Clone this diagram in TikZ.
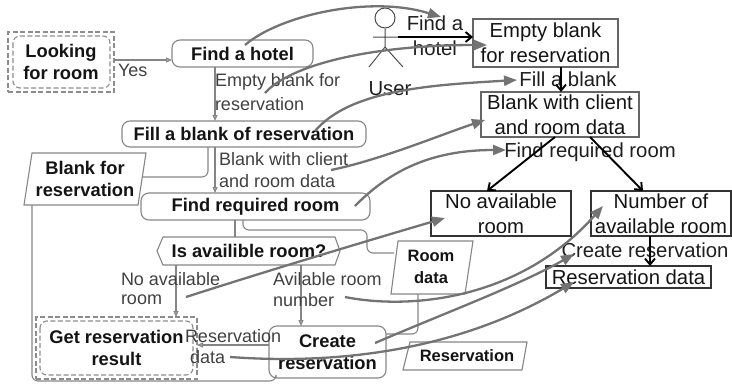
\documentclass[tikz,border=0pt]{standalone}
\usepackage{fontspec}
\setmainfont{Liberation Sans}
\usetikzlibrary{arrows.meta,calc}
\newcommand{\fB}{\fontsize{18.3}{22}\selectfont\bfseries}
\newcommand{\fL}{\fontsize{18}{21.5}\selectfont}
\newcommand{\fR}{\fontsize{20.3}{25}\selectfont}
\tikzset{
  x=1pt,y=-1pt,
  thin line/.style={draw=black!48,line width=1.1pt},
  flow/.style={thin line,-{Triangle[length=6pt,width=5pt,fill=black!25]}},
  box/.style={inner sep=0pt,outer sep=0pt,align=center,text=black!92},
  act/.style={box,thin line,rounded corners=8pt,font=\fB},
  tag/.style={box,font=\fB},
  lab/.style={inner sep=0pt,outer sep=0pt,align=left,anchor=west,text=black!75,font=\fL},
  res/.style={box,draw=black!60,line width=1.1pt,font=\fR},
  rtext/.style={inner sep=0pt,outer sep=0pt,align=center,text=black!88,font=\fR},
  dash1/.style={draw=black!45,line width=1.1pt,dash pattern=on 5pt off 2.5pt},
  graya/.style={draw=black!55,line width=2.3pt,-{Triangle[length=13pt,width=10pt]}},
  blacka/.style={draw=black,line width=1.9pt,-{Straight Barb[length=6pt,width=10pt]}},
}
\begin{document}
\begin{tikzpicture}
\useasboundingbox (0,0) rectangle (732,391);
% helper positions
\coordinate (c215) at (215,0);
\coordinate (c208) at (208,0);
\coordinate (c235) at (235,0);
\coordinate (c243) at (243,0);
\coordinate (c418) at (418,0);
\coordinate (y60) at (0,60);
\coordinate (y345) at (0,345);
\coordinate (y334) at (0,334);
% activity nodes
\node[act,minimum width=141pt,minimum height=27pt] (find) at (242.5,53.5) {Find a hotel};
\node[act,minimum width=244pt,minimum height=26pt] (fill) at (244,134) {Fill a blank of reservation};
\node[act,minimum width=229pt,minimum height=27pt] (req) at (255.5,206.5) {Find required room};
\node[act,minimum width=117pt,minimum height=52pt] (create) at (327.5,352) {Create\\reservation};
% start and end
\node[tag,dash1,minimum width=106pt,minimum height=60pt] (look) at (61,62) {};
\draw[dash1,rounded corners=7pt] (13,36) rectangle (110,88);
\node[tag,anchor=center] (looktext) at (61,62) {Looking\\for room};
\node[tag,dash1,minimum width=161pt,minimum height=62pt] (get) at (116.5,348) {};
\draw[dash1,rounded corners=7pt] (40,321) rectangle (193,375);
\node[tag] (gettext) at (116.5,348) {Get reservation\\result};
% hexagon
\node[tag] (hex) at (249,251) {Is availible room?};
\draw[thin line] (163,237) -- (335,237) -- (340,251) -- (335,265) -- (163,265) -- (157,251) -- cycle;
% data parallelograms
\node[tag] (bfr) at (85,179) {Blank for\\reservation};
\draw[thin line] (32,153) -- (146,153) -- (138,205) -- (24,205) -- cycle;
\node[tag,font=\fontsize{16.5}{22}\selectfont\bfseries] (rd) at (431,267) {Room\\data};
\draw[thin line] (398,241) -- (473,241) -- (465,294) -- (391,294) -- cycle;
\node[tag,font=\fontsize{16.5}{20}\selectfont\bfseries] (resv) at (467,356) {Reservation};
\draw[thin line] (410,342) -- (527,342) -- (522,370) -- (403,370) -- cycle;
% thin connectors
\coordinate (bfrr) at (142,177);
\coordinate (bfrb) at (32,205);
\coordinate (rdb) at (418,294);
\coordinate (rdl) at (394,253);
\coordinate (hextop) at (235,237);
\coordinate (hexb) at (176,265);
\coordinate (hexc) at (301,265);
\coordinate (cb) at (276,378);
\draw[flow] (look.east |- y60) -- (find.west |- y60);
\draw[flow] (find.south -| c215) -- (fill.north -| c215);
\draw[flow] (fill.south -| c215) -- (req.north -| c215);
\draw[thin line,rounded corners=6pt] (bfrr) -- (c208 |- bfrr) -- (fill.south -| c208);
\draw[thin line] (req.south -| c235) -- (hextop);
\draw[thin line,rounded corners=6pt] (req.south -| c243) -- (243,230) -- (367,230) -- (367,253) -- (rdl);
\draw[flow] (hexb) -- (get.north -| hexb);
\draw[flow] (hexc) -- (create.north -| hexc);
\draw[flow] (create.west |- y345) -- (get.east |- y345);
\draw[thin line,rounded corners=6pt] (rdb) -- (c418 |- y334) -- (create.east |- y334);
\draw[thin line,rounded corners=6pt] (bfrb) -- (32,381) -- (276,381) -- (cb);
% labels
\node[lab] (lyes) at (118,70) {Yes};
\node[lab] (l1) at (215,82) {Empty blank for};
\node[lab] (l1b) at (215,104) {reservation};
\node[lab] (l2) at (219,159) {Blank with client};
\node[lab] (l2b) at (219,181) {and room data};
\node[lab] (l3) at (121,279) {No available};
\node[lab] (l3b) at (121,300) {room};
\node[lab] (l4) at (273,279) {Avilable room};
\node[lab] (l4b) at (273,300) {number};
\node[lab] (l5) at (185,336) {Reservation};
\node[lab] (l5b) at (190,357) {data};
% actor
\node[draw=black!70,line width=1pt,circle,minimum size=20pt,inner sep=0pt] (head) at (385,18) {};
\coordinate (hip) at (385,47);
\coordinate (armL) at (373,37);
\coordinate (armR) at (400,37);
\coordinate (legL) at (369,67);
\coordinate (legR) at (403,67);
\draw[black!70,line width=1pt] (head.south) -- (hip) (armL) -- (armR) (legL) -- (hip) -- (legR);
\node[rtext] (user) at (390,89) {User};
% result boxes
\node[res,minimum width=145pt,minimum height=48pt] (r1) at (545.5,43) {Empty blank\\for reservation};
\node[res,minimum width=158pt,minimum height=45pt] (r2) at (560,114.5) {Blank with client\\and room data};
\node[res,draw=black!80,minimum width=140pt,minimum height=45pt] (r3) at (501,213.5) {No available\\room};
\node[res,draw=black!80,minimum width=140pt,minimum height=45pt] (r4) at (661,213.5) {Number of\\available room};
\node[res,draw=black!80,minimum width=165pt,minimum height=22pt] (r5) at (628.5,277) {Reservation data};
\node[rtext] (t1) at (435,36) {Find a\\hotel};
\node[rtext] (t2) at (568,79) {Fill a blank};
\node[rtext] (t3) at (590,152) {Find required room};
\node[rtext] (t4) at (645,250) {Create reservation};
% black arrows
\coordinate (a1) at (398,37);
\coordinate (a2) at (561,67);
\coordinate (a3) at (555,137);
\coordinate (a4) at (590,137);
\coordinate (a5) at (650,236);
\coordinate (a3e) at (487,191);
\coordinate (a4e) at (643,191);
\draw[blacka] (a1) -- (r1.west |- a1);
\draw[blacka] (a2) -- (r2.north -| a2);
\draw[blacka] (a3) -- (a3e);
\draw[blacka] (a4) -- (a4e);
\draw[blacka] (a5) -- (r5.north -| a5);
% gray arrows
\coordinate (g1s) at (245,45);   \coordinate (g1e) at (441,17);
\coordinate (g2s) at (265,93);   \coordinate (g2e) at (487,45);
\coordinate (g3s) at (315,131);  \coordinate (g3e) at (517,80);
\coordinate (g4s) at (331,170);  \coordinate (g4e) at (485,120);
\coordinate (g5s) at (355,206);  \coordinate (g5e) at (506,150);
\coordinate (g6s) at (186,297);  \coordinate (g6e) at (445,218);
\coordinate (g7s) at (345,297);  \coordinate (g7e) at (603,206);
\coordinate (g8s) at (375,343);  \coordinate (g8e) at (574,254);
\coordinate (g9s) at (230,357);  \coordinate (g9e) at (574,282);
\draw[graya] (g1s) .. controls (280,15) and (370,-5) .. (g1e);
\draw[graya] (g2s) .. controls (290,65) and (370,45) .. (g2e);
\draw[graya] (g3s) .. controls (350,90) and (430,85) .. (g3e);
\draw[graya] (g4s) .. controls (380,160) and (440,135) .. (g4e);
\draw[graya] (g5s) .. controls (395,165) and (440,150) .. (g5e);
\draw[graya] (g6s) .. controls (270,270) and (370,240) .. (g6e);
\draw[graya] (g7s) .. controls (410,310) and (520,300) .. (g7e);
\draw[graya] (g8s) .. controls (440,315) and (520,285) .. (g8e);
\draw[graya] (g9s) .. controls (340,365) and (460,350) .. (g9e);
\end{tikzpicture}
\end{document}
